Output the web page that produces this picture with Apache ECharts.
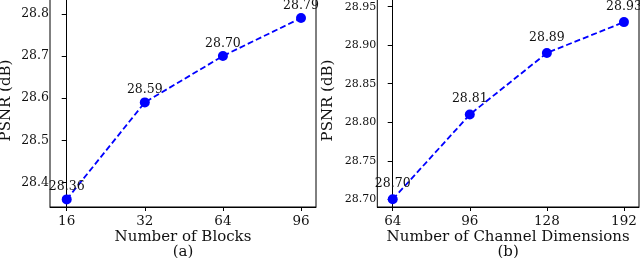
<!DOCTYPE html>
<html>
<head>
<meta charset="utf-8">
<script src="https://cdn.jsdelivr.net/npm/echarts@6/dist/echarts.min.js"></script>
<style>html,body{margin:0;padding:0;background:#fff}#c{width:640px;height:258px}</style>
</head>
<body>
<div id="c"></div>
<script>
const catsA = ['16', '32', '64', '96'];
const valsA = [28.36, 28.59, 28.70, 28.79];
const yTicksA = [28.4, 28.5, 28.6, 28.7, 28.8];
const catsB = ['64', '96', '128', '192'];
const valsB = [28.70, 28.81, 28.89, 28.93];
const yTicksB = [28.70, 28.75, 28.80, 28.85, 28.90, 28.95];
const xNameA = 'Number of Blocks';
const xNameB = 'Number of Channel Dimensions';
const yName = 'PSNR (dB)';

const FONT = 'DejaVu Serif';
const TXT = '#111';
const chart = echarts.init(document.getElementById('c'), null, {renderer: 'canvas'});

function xAxis(gi, cats, name, sub, min, max) {
  return {
    type: 'value', gridIndex: gi, min: min, max: max,
    splitLine: {show: false},
    axisLine: {show: true, lineStyle: {color: '#000', width: 1}},
    axisTick: {show: true, length: 4, lineStyle: {color: '#000'}, customValues: cats.map((c, i) => i)},
    axisLabel: {show: true, customValues: cats.map((c, i) => i), formatter: v => cats[Math.round(v)],
      fontFamily: FONT, fontSize: 13.5, color: TXT, margin: 7},
    name: name + '\n' + sub, nameLocation: 'middle', nameGap: 22, nameMoveOverlap: false,
    nameTextStyle: {fontFamily: FONT, fontSize: 15, color: TXT, lineHeight: 15.5, verticalAlign: 'top'}
  };
}
function yAxis(gi, ticks, dec, fs, min, max, gap, margin) {
  return {
    type: 'value', gridIndex: gi, min: min, max: max,
    splitLine: {show: false},
    axisLine: {show: true, lineStyle: {color: '#000', width: 1}},
    axisTick: {show: true, length: 5, lineStyle: {color: '#000'}, customValues: ticks},
    axisLabel: {show: true, customValues: ticks, formatter: v => v.toFixed(dec),
      fontFamily: FONT, fontSize: fs, color: TXT, margin: margin},
    name: yName, nameLocation: 'middle', nameGap: gap, nameRotate: 90, nameMoveOverlap: false,
    nameTextStyle: {fontFamily: FONT, fontSize: 15, color: TXT}
  };
}
function series(gi, vals, dist) {
  return {
    type: 'line', xAxisIndex: gi, yAxisIndex: gi,
    data: vals.map((v, i) => [i, v]),
    symbol: 'circle', symbolSize: 10,
    itemStyle: {color: '#0000ff'},
    lineStyle: {color: '#0000ff', width: 1.8, type: [6, 3]},
    label: {show: true, position: 'top', distance: dist, formatter: p => p.value[1].toFixed(2),
      fontFamily: FONT, fontSize: 12.5, color: TXT},
    animation: false, z: 3
  };
}

const gridBase = {top: -6, height: 213, show: true, borderColor: '#000', borderWidth: 1,
  containLabel: false, outerBoundsMode: 'none'};
chart.setOption({
  animation: false,
  grid: [
    Object.assign({left: 50, width: 266}, gridBase),
    Object.assign({left: 377.3, width: 261.7}, gridBase)
  ],
  xAxis: [
    xAxis(0, catsA, xNameA, '(a)', -0.214, 3.192),
    xAxis(1, catsB, xNameB, '(b)', -0.2, 3.195)
  ],
  yAxis: [
    yAxis(0, yTicksA, 1, 12.5, 28.342, 28.847, 36, 1),
    yAxis(1, yTicksB, 2, 11, 28.690, 28.9665, 42, 1)
  ],
  series: [series(0, valsA, 1), series(1, valsB, 4)]
});
</script>
</body>
</html>
